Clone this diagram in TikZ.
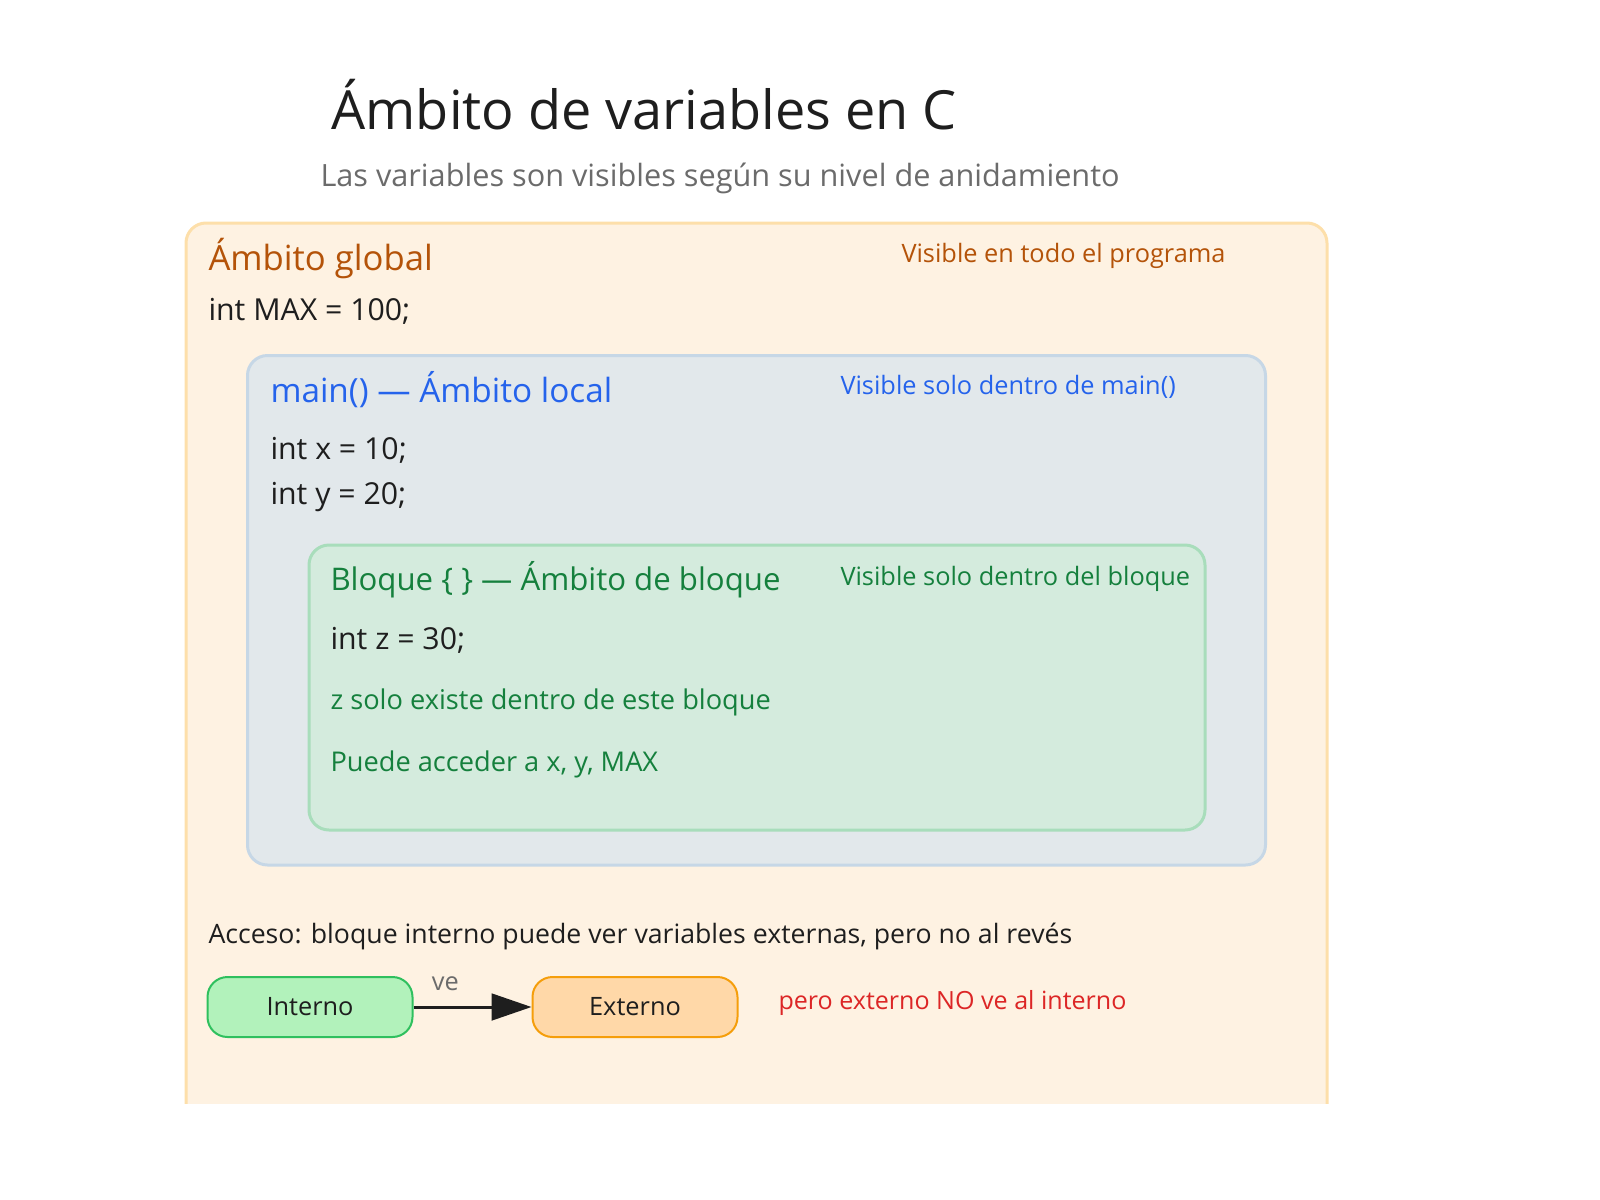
\documentclass[tikz,border=0pt]{standalone}
\usepackage{fontspec}
\setmainfont{Open Sans}
\usetikzlibrary{arrows.meta}

\definecolor{cInk}{HTML}{1E1E1E}
\definecolor{cSub}{HTML}{6B6B6B}
\definecolor{cGlobal}{HTML}{B45309}
\definecolor{cGlobalFill}{HTML}{FEF2E2}
\definecolor{cGlobalLine}{HTML}{FDDFAA}
\definecolor{cMain}{HTML}{2563EB}
\definecolor{cMainFill}{HTML}{E2E8EB}
\definecolor{cMainLine}{HTML}{C6D7E6}
\definecolor{cBlock}{HTML}{15803D}
\definecolor{cBlockFill}{HTML}{D4EBDD}
\definecolor{cBlockLine}{HTML}{A8DDBB}
\definecolor{cIntFill}{HTML}{B2F2BB}
\definecolor{cIntLine}{HTML}{2FC05E}
\definecolor{cExtFill}{HTML}{FFD8A8}
\definecolor{cExtLine}{HTML}{F59E0B}
\definecolor{cRed}{HTML}{DC2626}

\tikzset{every picture/.style={line width=0.75pt}}
\tikzset{
  txt/.style={anchor=base west, inner sep=0pt},
  ftitle/.style={font=\fontsize{40.5}{48}\selectfont},
  fsub/.style={font=\fontsize{23}{28}\selectfont},
  fhead/.style={font=\fontsize{26}{31}\selectfont},
  fcode/.style={font=\fontsize{22.7}{27}\selectfont},
  fnote/.style={font=\fontsize{19}{23}\selectfont},
  fbody/.style={font=\fontsize{20.4}{24}\selectfont},
  scopebox/.style={rounded corners=15pt, line width=2.25pt},
  pill/.style={rounded corners=15pt, line width=1.5pt, minimum width=153.75pt, minimum height=45pt, inner sep=0pt, font=\fontsize{19}{23}\selectfont, text=cInk},
}

\begin{document}
\begin{tikzpicture}[x=0.75pt,y=0.75pt,yscale=-1,xscale=1]
\useasboundingbox (0,0) rectangle (1600,1200);

% Text Node
\node [txt, ftitle, text=cInk] (title) at (331,129) {Ámbito de variables en C};
% Text Node
\node [txt, fsub, text=cSub] (subtitle) at (320,186) {Las variables son visibles según su nivel de anidamiento};

%Shape: Rectangle [global]
\begin{scope}
\clip (0,0) rectangle (1600,1103);
\draw [scopebox, draw=cGlobalLine, fill=cGlobalFill] (186,223) rectangle (1327,1130);
\end{scope}

% Text Node
\node [txt, fhead, text=cGlobal] (globalhead) at (208,270) {Ámbito global};
% Text Node
\node [txt, fnote, text=cGlobal] (globalnote) at (901,262) {Visible en todo el programa};
% Text Node
\node [txt, fcode, text=cInk] (varmax) at (208,320) {int MAX = 100;};

%Shape: Rectangle [main]
\draw [scopebox, draw=cMainLine, fill=cMainFill] (247.5,355.5) rectangle (1265.5,865);

% Text Node
\node [txt, fhead, font=\fontsize{25}{30}\selectfont, text=cMain] (mainhead) at (270,402) {main() — Ámbito local};
% Text Node
\node [txt, fnote, text=cMain] (mainnote) at (840,394) {Visible solo dentro de main()};
% Text Node
\node [txt, fcode, text=cInk] (varx) at (270,459) {int x = 10;};
% Text Node
\node [txt, fcode, text=cInk] (vary) at (270,504) {int y = 20;};

%Shape: Rectangle [bloque]
\draw [scopebox, draw=cBlockLine, fill=cBlockFill] (309,545) rectangle (1205,830);

% Text Node
\node [txt, fhead, font=\fontsize{23.4}{28}\selectfont, text=cBlock] (blockhead) at (330,590) {Bloque \{ \} — Ámbito de bloque};
% Text Node
\node [txt, fnote, text=cBlock] (blocknote) at (840,585) {Visible solo dentro del bloque};
% Text Node
\node [txt, fcode, text=cInk] (varz) at (330,649) {int z = 30;};
% Text Node
\node [txt, fbody, text=cBlock] (zonly) at (330,709) {z solo existe dentro de este bloque};
% Text Node
\node [txt, fbody, text=cBlock] (access) at (330,771) {Puede acceder a x, y, MAX};

% Text Node
\node [txt, fbody, font=\fontsize{20}{24}\selectfont, text=cInk] (rule) at (208,943) {Acceso: bloque interno puede ver variables externas, pero no al revés};

%Shape: Rounded Rect
\node [pill, draw=cIntLine, fill=cIntFill] (interno) at (310,1007) {Interno};
%Shape: Rounded Rect
\node [pill, draw=cExtLine, fill=cExtFill] (externo) at (635,1007) {Externo};

%Straight Lines
\draw [cInk, line width=2.25pt, -{Triangle[length=30pt,width=20pt]}] (interno) -- node [pos=0.27, above=11pt, inner sep=0pt, text=cSub, font=\fontsize{19}{23}\selectfont] (velabel) {ve} (externo);

% Text Node
\node [txt, font=\fontsize{18.8}{23}\selectfont, text=cRed] (warn) at (778,1009) {pero externo NO ve al interno};

\end{tikzpicture}
\end{document}
